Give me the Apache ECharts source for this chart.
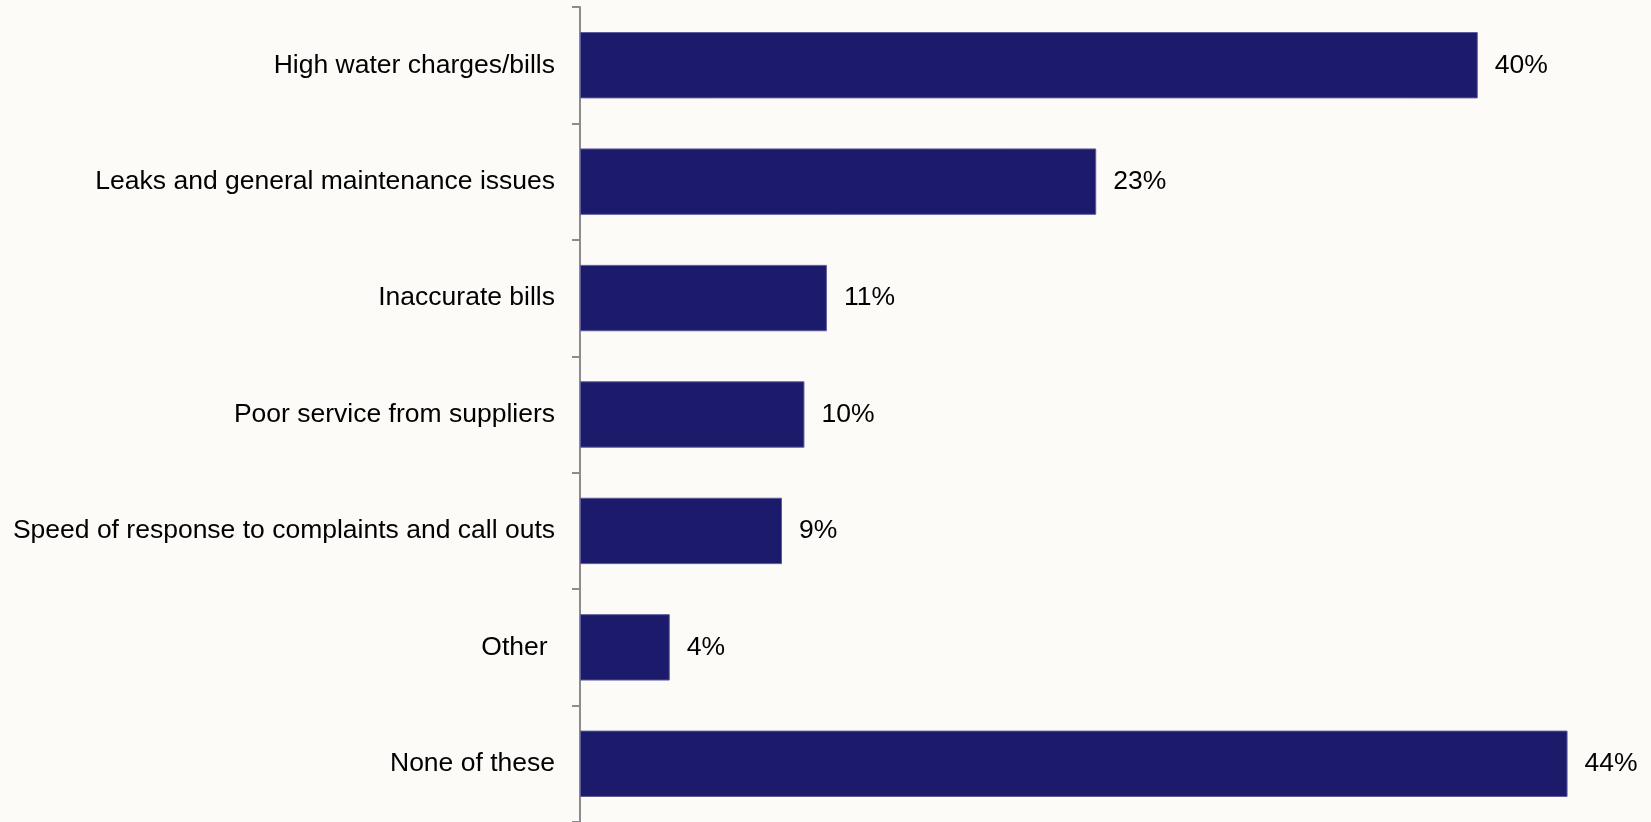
<!DOCTYPE html>
<html>
<head>
<meta charset="utf-8">
<script src="https://cdn.jsdelivr.net/npm/echarts@6/dist/echarts.min.js"></script>
<style>
html,body{margin:0;padding:0;background:#FCFBF8;}
#chart{width:1651px;height:822px;}
</style>
</head>
<body>
<div id="chart"></div>
<script>
const categories = [
  "High water charges/bills",
  "Leaks and general maintenance issues",
  "Inaccurate bills",
  "Poor service from suppliers",
  "Speed of response to complaints and call outs",
  "Other ",
  "None of these"
];
const values = [40, 23, 11, 10, 9, 4, 44];

const chart = echarts.init(document.getElementById('chart'));
chart.setOption({
  backgroundColor: '#FCFBF8',
  animation: false,
  grid: { left: 580, top: 7, width: 1010, height: 818, containLabel: false },
  xAxis: {
    type: 'value', min: 0, max: 45, show: false
  },
  yAxis: {
    type: 'category',
    data: categories,
    inverse: true,
    axisLine: { show: true, lineStyle: { color: '#8c8c8c', width: 2 } },
    axisTick: { show: true, inside: false, length: 8, lineStyle: { color: '#8c8c8c', width: 2 } },
    axisLabel: {
      color: '#000', fontSize: 26.5, fontFamily: 'Liberation Sans, Arial, sans-serif', margin: 25,
      padding: [4, 0, 0, 0]
    },
    splitLine: { show: false }
  },
  series: [{
    type: 'bar',
    data: values,
    barCategoryGap: '43%',
    itemStyle: { color: '#1B1A6B', borderColor: '#5a5a9c', borderWidth: 1 },
    label: {
      show: true, position: 'right', distance: 17,
      formatter: '{c}%', color: '#000', fontSize: 26.5,
      fontFamily: 'Liberation Sans, Arial, sans-serif',
      padding: [4, 0, 0, 0]
    }
  }]
});
</script>
</body>
</html>
